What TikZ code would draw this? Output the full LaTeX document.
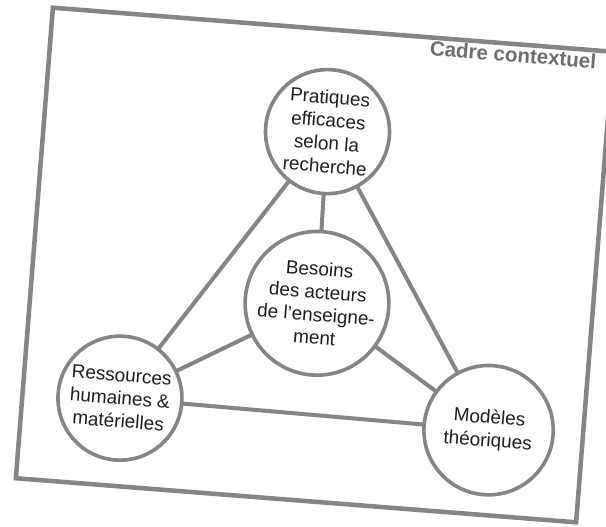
\documentclass[tikz,border=0pt]{standalone}
\usepackage{fontspec}
\setmainfont{Liberation Sans}
\definecolor{linegray}{HTML}{858585}
\definecolor{txtgray}{HTML}{6E6E6E}
\definecolor{txtdark}{HTML}{1E1E1E}
\begin{document}
\begin{tikzpicture}[x=0.75pt,y=-0.75pt,
  topic/.style={circle,draw=linegray,line width=2.7pt,fill=white,minimum size=93pt,inner sep=0pt,align=center,text=txtdark,font=\fontsize{14.2}{17.2}\selectfont},
  link/.style={draw=linegray,line width=3pt},
  frame/.style={draw=linegray,line width=3.4pt,fill=white}]
\useasboundingbox (0,0) rectangle (606,526);
\begin{scope}[rotate around={-4.5:(314.5,265)},transform shape]
  \path[frame] (33.5,29) rectangle (595.5,501);
  \node[anchor=base east,text=txtgray,font=\fontsize{15.4}{18}\selectfont\bfseries] (cadre) at (584,47) {Cadre contextuel};
  \coordinate (pP) at (317,131);
  \coordinate (pB) at (320,303);
  \coordinate (pR) at (131,413);
  \coordinate (pM) at (501,416);
  \draw[link] (pP) -- (pR);
  \draw[link] (pP) -- (pM);
  \draw[link] (pP) -- (pB);
  \draw[link] (pB) -- (pR);
  \draw[link] (pB) -- (pM);
  \draw[link] (pR) -- (pM);
  \node[topic] (prat) at (pP) {Pratiques\\efficaces\\selon la\\recherche};
  \node[topic] (bes) at (pB) {Besoins\\des acteurs\\de l’enseigne-\\ment};
  \node[topic] (res) at (pR) {Ressources\\humaines \&\\matérielles};
  \node[topic,minimum size=97pt] (mod) at (pM) {Modèles\\théoriques};
\end{scope}
\end{tikzpicture}
\end{document}
